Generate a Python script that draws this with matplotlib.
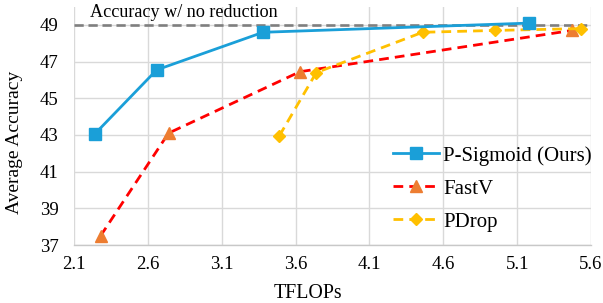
import matplotlib
matplotlib.use("Agg")
import matplotlib.pyplot as plt

plt.rcParams['font.family'] = ['Liberation Serif', 'DejaVu Serif']

psig_x = [2.24, 2.66, 3.38, 5.18]
psig_y = [43.05, 46.55, 48.6, 49.1]
fastv_x = [2.28, 2.74, 3.63, 5.47]
fastv_y = [37.5, 43.1, 46.45, 48.7]
pdrop_x = [3.49, 3.74, 4.46, 4.95, 5.53]
pdrop_y = [42.95, 46.4, 48.6, 48.7, 48.8]
baseline = 49.0
xticks = [2.1, 2.6, 3.1, 3.6, 4.1, 4.6, 5.1, 5.6]
yticks = [37, 39, 41, 43, 45, 47, 49]

W, H = 603, 303
fig = plt.figure(figsize=(W/100, H/100), dpi=100)
ax = fig.add_axes([74/W, 1-245/H, (591-74)/W, (245-6.6)/H])

ax.set_xlim(2.1, 5.6)
ax.set_ylim(37, 50)
ax.set_xticks(xticks)
ax.set_xticklabels([f"{v:.1f}" for v in xticks])
ax.set_yticks(yticks)
ax.grid(True, color='#d9d9d9', linewidth=1.0)
ax.set_axisbelow(True)
for s in ['top', 'right', 'left']:
    ax.spines[s].set_visible(False)
ax.spines['bottom'].set_color('#c8c8c8')
ax.spines['bottom'].set_linewidth(1.0)
ax.tick_params(axis='both', length=0, labelsize=13.5)
ax.tick_params(axis='y', pad=11)
ax.tick_params(axis='x', pad=8)

ax.axhline(baseline, color='#7f7f7f', linestyle=(0, (3.5, 1.8)), linewidth=1.9, zorder=2)
ax.text(2.21, 49.41, "Accuracy w/ no reduction", fontsize=13.1, va='baseline', ha='left')

ax.plot(psig_x, psig_y, color='#1a9fd8', linewidth=2.0, marker='s', markersize=8.5,
        zorder=4, label='P-Sigmoid (Ours)')
ax.plot(fastv_x, fastv_y, color='#ff0000', linewidth=2.0, linestyle=(0, (3.5, 2.2)),
        marker='^', markersize=9, markerfacecolor='#ed7d31', markeredgecolor='#ed7d31',
        zorder=3, label='FastV')
ax.plot(pdrop_x, pdrop_y, color='#ffc000', linewidth=2.0, linestyle=(0, (3.5, 2.2)),
        marker='D', markersize=6.5, markerfacecolor='#ffc000', markeredgecolor='#ffc000',
        zorder=3, label='PDrop')

leg = fig.legend(loc='upper left', bbox_to_anchor=(393/W, 1-146/H), fontsize=15,
                 frameon=False, handlelength=2.2, labelspacing=0.64, handletextpad=0.2,
                 borderpad=0, borderaxespad=0)

fig.text(308/W, 1-293/H, "TFLOPs", fontsize=14.3, ha='center', va='center')
fig.text(15/W, 1-142/H, "Average Accuracy", fontsize=14, ha='center', va='center',
         rotation=90)

fig.savefig("out.png", dpi=100)
